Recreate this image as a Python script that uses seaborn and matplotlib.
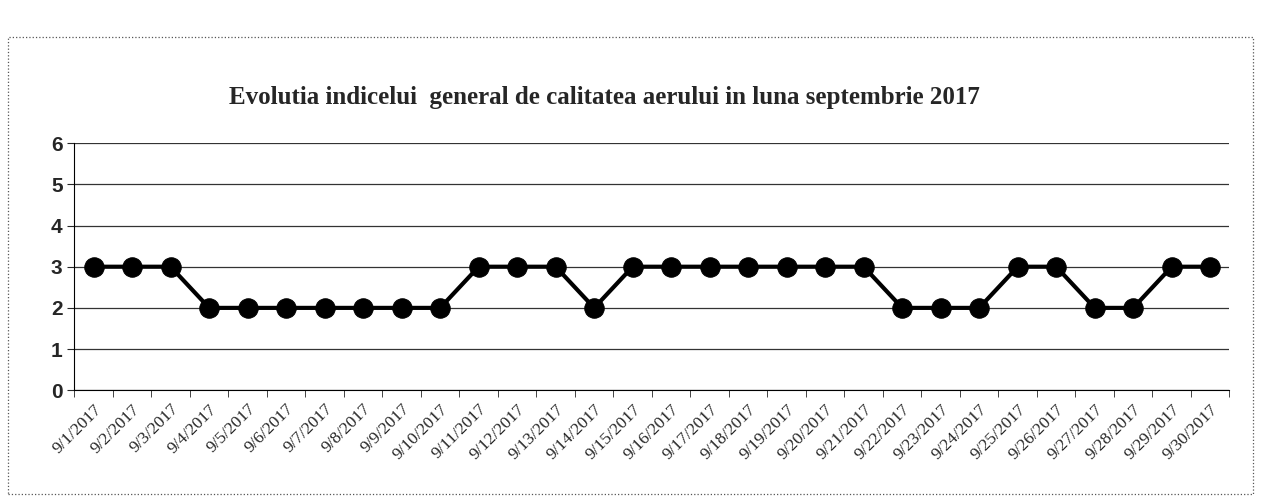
import numpy as np
import pandas as pd
import matplotlib
matplotlib.use("Agg")
import matplotlib.pyplot as plt
import seaborn as sns
from matplotlib.patches import Rectangle

# Data
days = [f"9/{d}/2017" for d in range(1, 31)]
index_values = [3, 3, 3, 2, 2, 2, 2, 2, 2, 2,
                3, 3, 3, 2, 3, 3, 3, 3, 3, 3,
                3, 2, 2, 2, 3, 3, 2, 2, 3, 3]
y_ticks = [0, 1, 2, 3, 4, 5, 6]

df = pd.DataFrame({"pos": np.arange(len(days)), "zi": days, "indice": index_values})

sns.set_style("white")
fig = plt.figure(figsize=(12.61, 4.99), dpi=100)
ax = fig.add_axes([0.059, 0.218, 0.916, 0.495])

sns.lineplot(data=df, x="pos", y="indice", ax=ax, color="black",
             linewidth=3, marker="o", markersize=14, markeredgecolor="black")

ax.set_ylim(0, 6)
ax.set_yticks(y_ticks)
ax.set_yticklabels([str(v) for v in y_ticks], fontsize=15,
                   family="Liberation Sans", fontweight="bold")
ax.set_xlim(-0.5, len(days) - 0.5)
ax.set_xticks(np.arange(len(days)))
ax.set_xticklabels(days, rotation=45, ha="right", rotation_mode="anchor",
                   fontsize=12.5, family="Liberation Serif")
ax.tick_params(axis="x", length=0, pad=8)
ax.tick_params(axis="y", length=5, left=True, direction="out")
# category boundary ticks
ax.set_xticks(np.arange(len(days) + 1) - 0.5, minor=True)
ax.tick_params(axis="x", which="minor", length=5, bottom=True, direction="out")

ax.grid(axis="y", color="#333333", linewidth=0.9)
ax.set_axisbelow(True)
for s in ["top", "right"]:
    ax.spines[s].set_visible(False)
ax.spines["left"].set_color("black")
ax.spines["bottom"].set_color("black")
ax.set_xlabel("")
ax.set_ylabel("")

fig.text(0.479, 0.805, "Evolutia indicelui  general de calitatea aerului in luna septembrie 2017",
         ha="center", va="center", fontsize=18, fontweight="bold", family="Liberation Serif")

# dotted outer frame of the chart area
fig.patches.append(Rectangle((0.006, 0.01), 0.988, 0.915, transform=fig.transFigure,
                             fill=False, linestyle=":", linewidth=0.9, edgecolor="#555555"))

plt.savefig("out.png", dpi=100)
